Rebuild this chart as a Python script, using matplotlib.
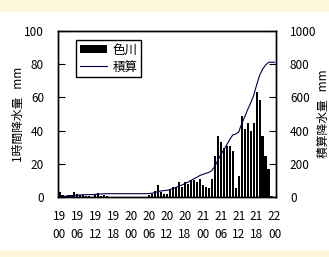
import numpy as np
import matplotlib as mpl
mpl.use('Agg')
import matplotlib.pyplot as plt
from matplotlib.patches import Rectangle

plt.rcParams['font.family'] = ['Noto Sans CJK JP', 'DejaVu Sans']
plt.rcParams['font.size'] = 8

# hourly rainfall (mm), 19日00時 .. 22日00時
hourly = [3, 1, 0.5, 1, 1, 3, 2, 1, 1, 0.5,
          0.5, 0, 1, 2.5, 0.5, 1, 0.5, 0, 0, 0,
          0, 0, 0, 0, 0, 0, 0, 0, 0, 0,
          1, 2, 3.5, 7, 3, 2, 2, 4.5, 6, 6,
          9, 6, 9, 8, 10.5, 10, 9, 11, 7, 6,
          5.5, 11, 25, 37, 33, 29.5, 31, 31, 28, 5.5,
          12.5, 49, 41, 44.5, 40, 44.5, 63.5, 58.5, 37, 25,
          17, 0.5, 0]
tick_days = ['19', '19', '19', '19', '20', '20', '20', '20', '21', '21', '21', '21', '22']
tick_hours = ['00', '06', '12', '18', '00', '06', '12', '18', '00', '06', '12', '18', '00']

hours = np.arange(len(hourly))
cum = np.cumsum(hourly)
navy = '#000050'

fig = plt.figure(figsize=(3.29, 2.57), dpi=100)
fig.patches.append(Rectangle((0, 1 - 12/257), 1, 12/257, transform=fig.transFigure,
                             facecolor='#fff7dc', edgecolor='none', zorder=0))
fig.patches.append(Rectangle((0, 0), 1, 7/257, transform=fig.transFigure,
                             facecolor='#fff7dc', edgecolor='none', zorder=0))

ax = fig.add_axes([58/329, 60/257, 218/329, 166/257])
ax2 = ax.twinx()
ax.set_zorder(ax2.get_zorder() + 1)
ax.patch.set_visible(False)

b = ax.bar(hours, hourly, width=0.72, color='k', label='色川')
ax.set_xlim(-0.5, 72.5)
ax.set_ylim(0, 100)
ax.set_yticks(range(0, 101, 20))
ax.set_xticks(range(0, 73, 6))
ax.set_xticklabels([d + '\n' + h for d, h in zip(tick_days, tick_hours)], linespacing=1.6)
ax.tick_params(axis='x', length=0, pad=9, labelsize=8.5)
ax.tick_params(axis='y', direction='in', length=5, pad=10, labelsize=8.5)
ax.set_ylabel('1時間降水量   mm', fontsize=8.5)
ax.yaxis.set_label_coords(-0.15, 0.5)

ln, = ax.plot(hours, cum / 10.0, color=navy, lw=0.8, label='積算')
ax2.set_ylim(0, 1000)
ax2.set_yticks(range(0, 1001, 200))
ax2.tick_params(axis='y', direction='in', length=5, pad=10, labelsize=8.5)
ax2.set_ylabel('積算降水量   mm', fontsize=8.5)
ax2.yaxis.set_label_coords(1.19, 0.5)

for s in ax.spines.values():
    s.set_linewidth(1)
for s in ax2.spines.values():
    s.set_linewidth(1)

leg = ax.legend(handles=[b, ln], loc='upper left', bbox_to_anchor=(0.083, 0.946),
                borderaxespad=0, fancybox=False, edgecolor='k', framealpha=1,
                fontsize=9, handlelength=2.2, handleheight=0.6,
                borderpad=0.3, labelspacing=0.3, handletextpad=0.4)
leg.get_frame().set_linewidth(1)

fig.savefig('out.png', dpi=100)
